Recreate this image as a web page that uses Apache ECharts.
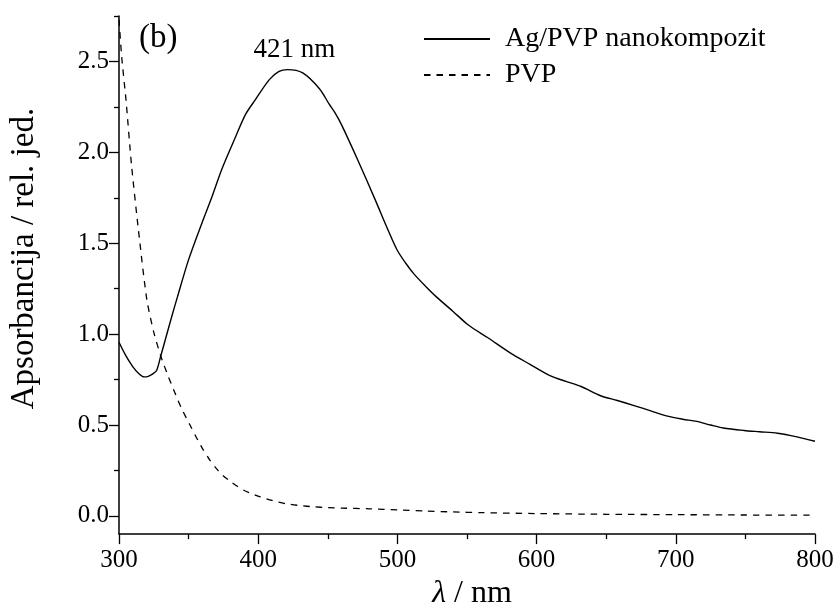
<!DOCTYPE html>
<html>
<head>
<meta charset="utf-8">
<script src="https://cdn.jsdelivr.net/npm/echarts@6/dist/echarts.min.js"></script>
<style>
  html, body { margin: 0; padding: 0; background: #fff; }
  #chart { width: 837px; height: 615px; }
</style>
</head>
<body>
<div id="chart"></div>
<script>
// UV-Vis absorption spectra: Ag/PVP nanocomposite vs. pure PVP
const agWavelength = [300, 305, 310, 314, 318, 321, 324, 327, 330, 334, 338, 342, 350, 360, 367, 374, 384, 391, 398, 408, 415, 421, 432, 444, 451, 455, 460, 472, 484, 494, 500, 506, 512, 520, 528, 540, 551, 565, 581, 595, 610, 621, 632, 646, 658, 670, 682, 694, 705, 715, 725, 734, 749, 760, 773, 787, 800];
const agAbsorbance = [0.955, 0.88, 0.82, 0.785, 0.765, 0.768, 0.78, 0.80, 0.88, 0.99, 1.10, 1.205, 1.41, 1.62, 1.76, 1.91, 2.09, 2.21, 2.29, 2.40, 2.445, 2.455, 2.437, 2.35, 2.265, 2.22, 2.15, 1.95, 1.74, 1.56, 1.46, 1.39, 1.33, 1.265, 1.205, 1.125, 1.05, 0.98, 0.897, 0.835, 0.77, 0.74, 0.712, 0.661, 0.635, 0.607, 0.578, 0.549, 0.532, 0.52, 0.50, 0.484, 0.47, 0.463, 0.455, 0.435, 0.411];

const pvpWavelength = [300, 302, 305, 309, 314, 320, 325, 330, 335, 340, 345, 351, 355, 360, 365, 370, 375, 380, 385, 390, 400, 410, 420, 430, 440, 450, 460, 480, 500, 520, 540, 560, 600, 650, 700, 750, 800];
const pvpAbsorbance = [2.73, 2.52, 2.29, 1.93, 1.57, 1.19, 1.01, 0.88, 0.775, 0.68, 0.59, 0.50, 0.44, 0.37, 0.31, 0.26, 0.22, 0.19, 0.163, 0.14, 0.109, 0.085, 0.067, 0.057, 0.050, 0.046, 0.043, 0.039, 0.033, 0.027, 0.022, 0.018, 0.013, 0.009, 0.007, 0.005, 0.004];

const yMajorTicks = [0.0, 0.5, 1.0, 1.5, 2.0, 2.5];
const yMinorTicks = [0.25, 0.75, 1.25, 1.75, 2.25, 2.75];
const peakWavelength = 421;
const peakAbsorbance = 2.455;

const seriesNames = ['Ag/PVP nanokompozit', 'PVP'];

const FONT = '"Liberation Serif", "Times New Roman", serif';

function pairs(xs, ys) {
  return xs.map((x, i) => [x, ys[i]]);
}

const chart = echarts.init(document.getElementById('chart'), null, { renderer: 'canvas' });

const axisLineStyle = { color: '#000', width: 1.5 };

chart.setOption({
  backgroundColor: '#fff',
  animation: false,
  grid: { left: 116, right: 22, top: 16, bottom: 75, containLabel: false },
  legend: {
    orient: 'vertical',
    left: 418,
    top: 19,
    itemWidth: 66,
    itemHeight: 10,
    itemGap: 6,
    data: seriesNames,
    itemStyle: { color: 'transparent', borderWidth: 0 },
    textStyle: {
      fontFamily: FONT,
      fontSize: 28,
      color: '#000',
      lineHeight: 30,
      padding: [0, 0, 0, 10]
    }
  },
  xAxis: {
    type: 'value',
    min: 300,
    max: 800,
    interval: 100,
    name: '{i|λ} / nm',
    nameLocation: 'middle',
    nameGap: 40,
    nameTextStyle: {
      fontFamily: FONT,
      fontSize: 32,
      color: '#000',
      padding: [0, 0, 0, 10],
      rich: {
        i: { fontFamily: FONT, fontSize: 32, fontStyle: 'italic', color: '#000' }
      }
    },
    axisLine: { show: true, onZero: false, lineStyle: axisLineStyle },
    axisTick: { show: true, inside: false, length: 10, lineStyle: { color: '#000', width: 1.3 } },
    minorTick: { show: true, splitNumber: 2, length: 5, lineStyle: { color: '#000', width: 1.3 } },
    axisLabel: { fontFamily: FONT, fontSize: 25, color: '#000', margin: 14 },
    splitLine: { show: false }
  },
  yAxis: [
    {
      type: 'value',
      min: -0.1,
      max: 2.75,
      name: 'Apsorbancija / rel. jed.',
      nameLocation: 'middle',
      nameGap: 78,
      nameTextStyle: {
        fontFamily: FONT,
        fontSize: 33,
        color: '#000',
        padding: [0, 0, 0, 33]
      },
      axisLine: { show: true, onZero: false, lineStyle: axisLineStyle },
      axisTick: { show: true, inside: false, length: 10, customValues: yMajorTicks, lineStyle: { color: '#000', width: 1.3 } },
      axisLabel: {
        fontFamily: FONT,
        fontSize: 25,
        color: '#000',
        margin: 10,
        customValues: yMajorTicks,
        formatter: v => v.toFixed(1)
      },
      splitLine: { show: false }
    },
    {
      // minor tick marks between labelled values
      type: 'value',
      position: 'left',
      min: -0.1,
      max: 2.75,
      axisLine: { show: false },
      axisTick: { show: true, inside: false, length: 5, customValues: yMinorTicks, lineStyle: { color: '#000', width: 1.3 } },
      axisLabel: { show: false },
      splitLine: { show: false }
    }
  ],
  graphic: [
    {
      type: 'text',
      left: 139,
      top: 22,
      style: { text: '(b)', fontFamily: FONT, fontSize: 33, fill: '#000' }
    }
  ],
  series: [
    {
      name: seriesNames[0],
      type: 'line',
      yAxisIndex: 0,
      data: pairs(agWavelength, agAbsorbance),
      showSymbol: false,
      symbol: 'none',
      smooth: 0.3,
      lineStyle: { color: '#000', width: 1.4, type: 'solid' },
      itemStyle: { color: '#000' },
      markPoint: {
        symbol: 'circle',
        symbolSize: 0,
        data: [{ coord: [peakWavelength, peakAbsorbance] }],
        label: {
          show: true,
          position: 'top',
          distance: 6,
          offset: [7, 0],
          formatter: peakWavelength + ' nm',
          fontFamily: FONT,
          fontSize: 27,
          color: '#000'
        }
      }
    },
    {
      name: seriesNames[1],
      type: 'line',
      yAxisIndex: 0,
      data: pairs(pvpWavelength, pvpAbsorbance),
      showSymbol: false,
      symbol: 'none',
      smooth: 0.25,
      lineStyle: { color: '#000', width: 1.3, type: [6.5, 6] },
      itemStyle: { color: '#000' }
    }
  ]
});
</script>
</body>
</html>
